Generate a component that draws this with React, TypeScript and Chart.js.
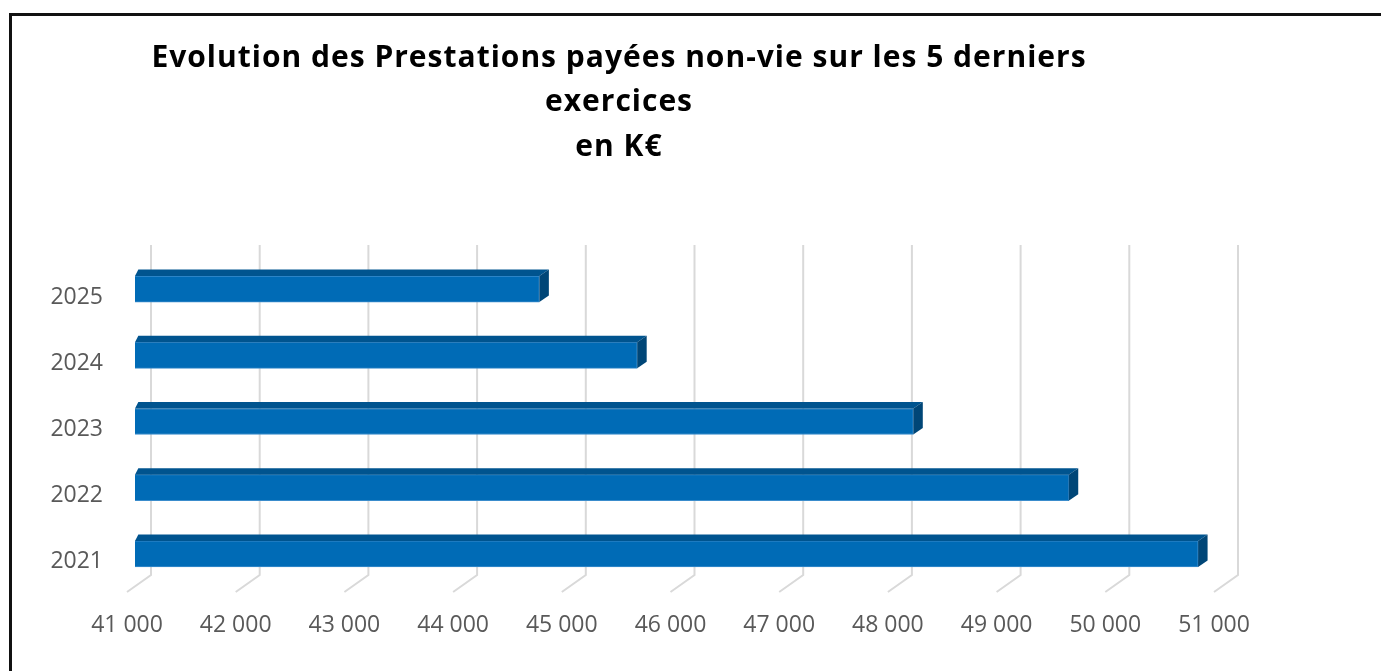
import React, { useEffect, useRef } from "react";
import { Chart, registerables } from "chart.js";

Chart.register(...registerables);

const years = ["2021", "2022", "2023", "2024", "2025"];
const prestations = [50780, 49590, 48160, 45620, 44720];
const titleLines = [
  "Evolution des Prestations payées non-vie sur les 5 derniers",
  "exercices",
  "en K€",
];
const axisMin = 41000;
const axisMax = 51000;
const axisStep = 1000;

const formatK = (v: number) => {
  const s = String(Math.round(v));
  return s.replace(/\B(?=(\d{3})+(?!\d))/g, " ");
};

const FRONT = "#006bb6";
const TOP = "#00548f";
const SIDE = "#004677";

const threeD = {
  id: "threeD",
  beforeDatasetsDraw(chart: any) {
    const { ctx, chartArea, scales } = chart;
    const xs = scales.x;
    ctx.save();
    ctx.strokeStyle = "#d9d9d9";
    ctx.lineWidth = 2;
    xs.ticks.forEach((t: any) => {
      const xf = xs.getPixelForValue(t.value);
      const xb = xf + 16;
      ctx.beginPath();
      ctx.moveTo(xb, chartArea.top - 11);
      ctx.lineTo(xb, chartArea.bottom - 12);
      ctx.lineTo(xf - 8, chartArea.bottom + 5);
      ctx.stroke();
    });
    ctx.restore();
  },
  afterDatasetsDraw(chart: any) {
    const { ctx } = chart;
    const meta = chart.getDatasetMeta(0);
    const dx = 9.5;
    const dy = 6.5;
    ctx.save();
    meta.data.forEach((bar: any) => {
      const p = bar.getProps(["x", "y", "base", "height"], true);
      const top = p.y - p.height / 2;
      const bottom = p.y + p.height / 2;
      const left = p.base;
      const right = p.x;
      ctx.fillStyle = TOP;
      ctx.beginPath();
      ctx.moveTo(left, top);
      ctx.lineTo(left + dx * 0.35, top - dy);
      ctx.lineTo(right + dx, top - dy);
      ctx.lineTo(right, top);
      ctx.closePath();
      ctx.fill();
      ctx.fillStyle = SIDE;
      ctx.beginPath();
      ctx.moveTo(right, top);
      ctx.lineTo(right + dx, top - dy);
      ctx.lineTo(right + dx, bottom - dy);
      ctx.lineTo(right, bottom);
      ctx.closePath();
      ctx.fill();
    });
    ctx.restore();
  },
  afterDraw(chart: any) {
    const { ctx } = chart;
    ctx.save();
    ctx.fillStyle = "#000000";
    ctx.font = "bold 30px 'Open Sans'";
    (ctx as any).letterSpacing = "1px";
    ctx.textAlign = "center";
    ctx.textBaseline = "middle";
    titleLines.forEach((line, i) => {
      ctx.fillText(line, 619, 58 + i * 44.5);
    });
    ctx.restore();
  },
};

export default function App() {
  const ref = useRef<HTMLCanvasElement | null>(null);
  useEffect(() => {
    if (!ref.current) return;
    const chart = new Chart(ref.current, {
      type: "bar",
      data: {
        labels: years,
        datasets: [
          {
            data: prestations,
            base: axisMin,
            backgroundColor: FRONT,
            borderColor: "#3a8ccc",
            borderWidth: 1,
            barThickness: 26,
          } as any,
        ],
      },
      options: {
        animation: false,
        responsive: false,
        indexAxis: "y",
        layout: { padding: { left: 10, top: 256, right: 159, bottom: 0 } },
        plugins: {
          legend: { display: false },
          title: { display: false },
          tooltip: { enabled: false },
        },
        scales: {
          x: {
            min: axisMin,
            max: axisMax,
            border: { display: false },
            grid: { display: false, drawTicks: false },
            afterFit: (s: any) => {
              s.height = 84;
            },
            ticks: {
              stepSize: axisStep,
              padding: 25,
              labelOffset: -8,
              color: "#595959",
              font: { family: "'Open Sans'", size: 23 },
              callback: (v: any) => formatK(Number(v)),
            },
          },
          y: {
            reverse: true,
            border: { display: false },
            grid: { display: false, drawTicks: false },
            afterFit: (s: any) => {
              s.width = 125;
            },
            ticks: {
              padding: 32,
              labelOffset: 8,
              color: "#595959",
              font: { family: "'Open Sans'", size: 23 },
            },
          },
        },
      },
      plugins: [threeD],
    });
    return () => chart.destroy();
  }, []);
  return (
    <div style={{ position: "fixed", left: 0, top: 0, width: 1381, height: 671, background: "#fff", overflow: "hidden" }}>
      <div
        style={{
          position: "absolute",
          left: 9,
          top: 13,
          width: 1400,
          height: 700,
          borderTop: "3px solid #111",
          borderLeft: "3px solid #111",
        }}
      />
      <canvas ref={ref} width={1381} height={671} style={{ position: "absolute", left: 0, top: 0 }} />
    </div>
  );
}
